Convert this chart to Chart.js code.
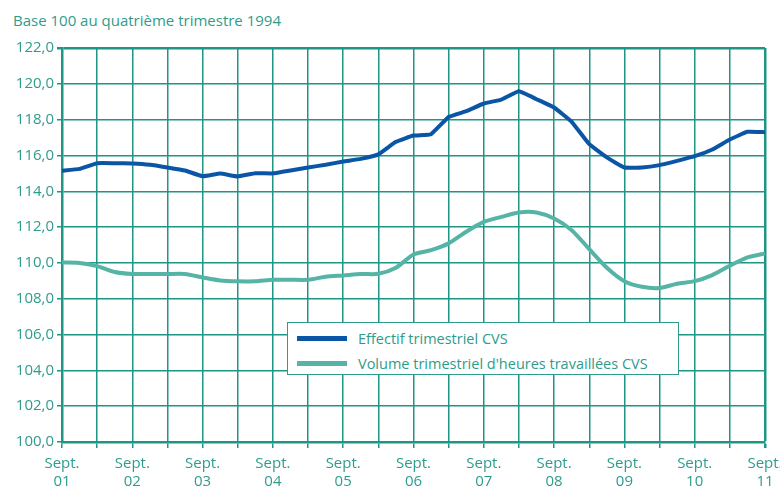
<!DOCTYPE html>
<html>
<head>
<meta charset="utf-8">
<script src="https://cdn.jsdelivr.net/npm/chart.js@4"></script>
<style>
  html, body { margin: 0; padding: 0; background: #fff; overflow: hidden; }
  body { width: 780px; height: 488px; position: relative; font-family: "Open Sans", sans-serif; }
  #title { position: absolute; left: 13px; top: 10px; font-size: 15px; color: #2e9c8c; }
  #wrap { position: absolute; left: 0; top: 0; width: 780px; height: 488px; }
  #legend {
    position: absolute; left: 287px; top: 322px; width: 390px; height: 51px;
    border: 1.5px solid #2e9c8c; background: #fff; font-size: 14.5px; color: #2e9c8c;
  }
  #legend .row { position: absolute; left: 9px; height: 20px; display: flex; align-items: center; }
  #legend .sw { width: 50px; height: 5px; margin-right: 11px; }
</style>
</head>
<body>
<div id="title">Base 100 au quatrième trimestre 1994</div>
<div id="wrap"><canvas id="chart"></canvas></div>
<div id="legend"></div>

<script>
// one point per quarter, Sept 01 -> Sept 11
const years = ["01", "02", "03", "04", "05", "06", "07", "08", "09", "10", "11"];
const quarters = [];
years.forEach((y, i) => {
  quarters.push("Sept. " + y);
  if (i < years.length - 1) quarters.push("Déc. " + y, "Mars " + years[i + 1], "Juin " + years[i + 1]);
});

const effectif = [
  115.15, 115.25, 115.57, 115.57, 115.55, 115.48, 115.33, 115.16, 114.84, 114.99,
  114.83, 115.01, 115.0, 115.16, 115.33, 115.48, 115.66, 115.81, 116.06, 116.76,
  117.11, 117.19, 118.15, 118.47, 118.9, 119.12, 119.58, 119.14, 118.68, 117.88,
  116.63, 115.89, 115.33, 115.33, 115.46, 115.7, 115.96, 116.33, 116.89, 117.32,
  117.3
];
const volume = [
  110.02, 110.0, 109.82, 109.49, 109.38, 109.38, 109.38, 109.38, 109.19, 109.02,
  108.97, 108.97, 109.06, 109.06, 109.06, 109.23, 109.3, 109.38, 109.39, 109.73,
  110.47, 110.71, 111.09, 111.74, 112.29, 112.57, 112.82, 112.82, 112.48, 111.83,
  110.77, 109.73, 108.98, 108.67, 108.6, 108.84, 108.98, 109.32, 109.84, 110.31,
  110.53
];
const yTicks = [100, 102, 104, 106, 108, 110, 112, 114, 116, 118, 120, 122];

const seriesNames = ["Effectif trimestriel CVS", "Volume trimestriel d'heures travaillées CVS"];
const seriesColors = ["#0b55a6", "#55b4a6"];

const teal = "#2e9c8c";
const gridCol = "#1f9583";

// legend box
const legend = document.getElementById("legend");
seriesNames.forEach((name, i) => {
  legend.innerHTML += `<div class="row" style="top:${5 + i * 25}px"><div class="sw" style="background:${seriesColors[i]}"></div>${name}</div>`;
});

new Chart(document.getElementById("chart"), {
  type: "line",
  data: {
    labels: quarters,
    datasets: [
      { label: seriesNames[0], data: effectif, borderColor: seriesColors[0], borderWidth: 4, pointRadius: 0, tension: 0.1 },
      { label: seriesNames[1], data: volume, borderColor: seriesColors[1], borderWidth: 4, pointRadius: 0, tension: 0.25 }
    ]
  },
  options: {
    responsive: true,
    maintainAspectRatio: false,
    animation: false,
    layout: { padding: { left: 5, right: 15, top: 48, bottom: 0 } },
    plugins: { legend: { display: false }, tooltip: { enabled: false } },
    scales: {
      x: {
        grid: {
          color: ctx => ctx.index % 2 === 0 ? gridCol : "transparent",
          tickColor: ctx => ctx.index % 2 === 0 ? gridCol : "transparent",
          lineWidth: ctx => ctx.index === quarters.length - 1 ? 2.5 : 1.5,
          tickLength: 6
        },
        border: { color: gridCol, width: 2.5 },
        ticks: {
          autoSkip: false,
          maxRotation: 0,
          color: teal,
          padding: 6,
          font: { family: "Open Sans", size: 15, lineHeight: 1.25 },
          callback: (v, i) => i % 4 === 0 ? ["Sept.", years[i / 4]] : ""
        },
        afterFit: s => { s.height = 46; s.paddingRight = 0; }
      },
      y: {
        min: 100,
        max: 122,
        afterBuildTicks: s => { s.ticks = yTicks.map(v => ({ value: v })); },
        grid: {
          color: gridCol,
          tickColor: gridCol,
          lineWidth: ctx => ctx.tick && ctx.tick.value === 122 ? 2.5 : 1.5,
          tickLength: 5
        },
        border: { color: gridCol, width: 2.5 },
        ticks: {
          color: teal,
          padding: 3,
          font: { family: "Open Sans", size: 15 },
          callback: v => v.toFixed(1).replace(".", ",")
        },
        afterFit: s => { s.width = 57; }
      }
    }
  }
});
</script>
</body>
</html>
